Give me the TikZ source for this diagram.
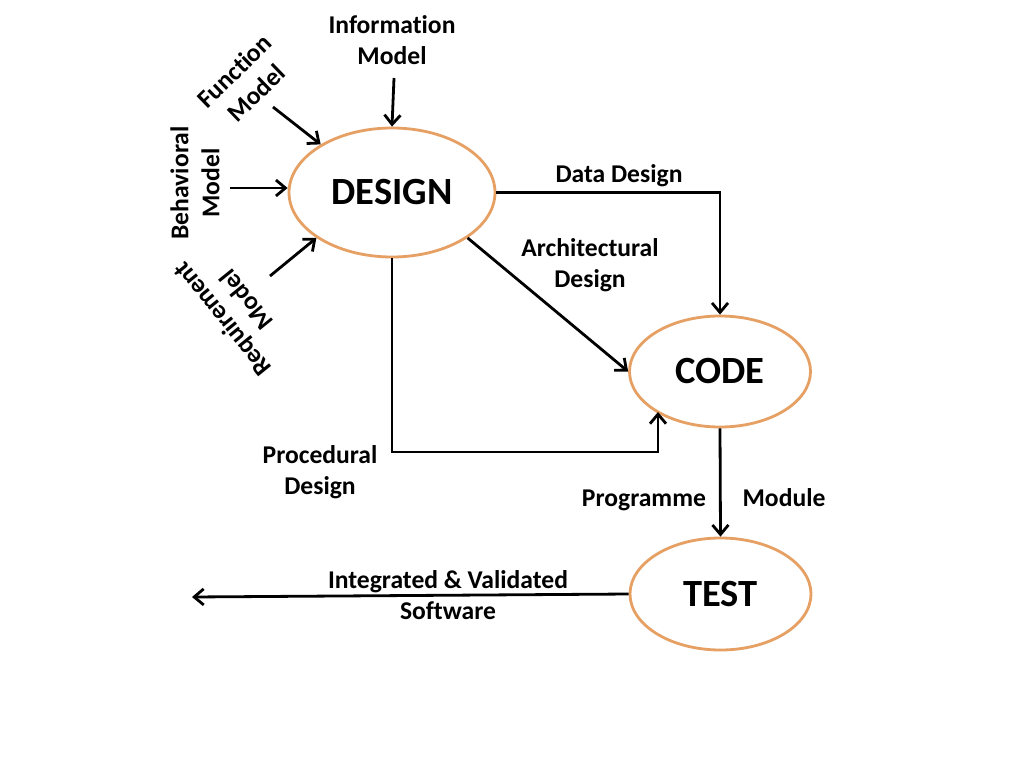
\documentclass[tikz,border=0pt]{standalone}
\usepackage{fontspec}
\setmainfont[Ligatures=NoCommon]{Carlito}
\usetikzlibrary{arrows.meta,shapes.geometric}
\definecolor{ringc}{RGB}{230,160,100}
\begin{document}
\begin{tikzpicture}[x=1pt,y=1pt,
  phase/.style={ellipse,draw=ringc,line width=2.8pt,inner sep=0pt,
    font=\fontsize{38.5}{40}\selectfont\bfseries},
  lbl/.style={font=\fontsize{25.6}{31}\selectfont\bfseries,align=center,inner sep=0pt},
  flow/.style={line width=2.8pt,-{Straight Barb[length=9.5pt,width=16pt,line width=2.8pt]}}]
\useasboundingbox[fill=white] (0,0) rectangle (1024,-768);

\node[phase,minimum width=206pt,minimum height=129pt] (design) at (392,-192.5) {DESIGN};
\node[phase,minimum width=181pt,minimum height=111pt] (code) at (720,-371.5) {CODE};
\node[phase,minimum width=181pt,minimum height=112pt] (test) at (720.5,-594) {TEST};

\node[lbl] (info) at (392,-40) {Information\\Model};
\node[lbl,rotate=44] (func) at (245,-82) {Function\\Model};
\node[lbl,rotate=90] (beh) at (195,-183) {Behavioral\\Model};
\node[lbl,rotate=129] (req) at (234,-310) {Requirement\\Model};

\coordinate (infoS) at (394,-78);
\coordinate (funcS) at (273,-107);
\coordinate (behS) at (230,-188);
\coordinate (reqS) at (270,-276);

\draw[flow] (infoS) -- (design.north);
\draw[flow] (funcS) -- (design.146);
\draw[flow] (behS) -- (behS -| design.west);
\draw[flow] (reqS) -- (design.211);

\node[lbl] (dd) at (619,-176) {Data Design};
\node[lbl] (ad) at (590,-265) {Architectural\\Design};
\node[lbl] (pd) at (320,-472) {Procedural\\Design};
\node[lbl] (prog) at (644,-500) {Programme};
\node[lbl] (mod) at (784,-498) {Module};
\node[lbl] (ivs) at (448,-595) {Integrated \& Validated\\Software};

\draw[flow] (design.east) -| (code.north);
\draw[flow] (design.-31) -- (code.west);
\coordinate (pcorner) at (658,-452);
\coordinate (pend) at (658,-412);
\draw[flow] (design.south) |- (pcorner) -- (pend);
\draw[flow] (code.south) -- (test.north);
\coordinate (outE) at (192,-597);
\draw[flow] (test.west) -- (outE);
\end{tikzpicture}
\end{document}
